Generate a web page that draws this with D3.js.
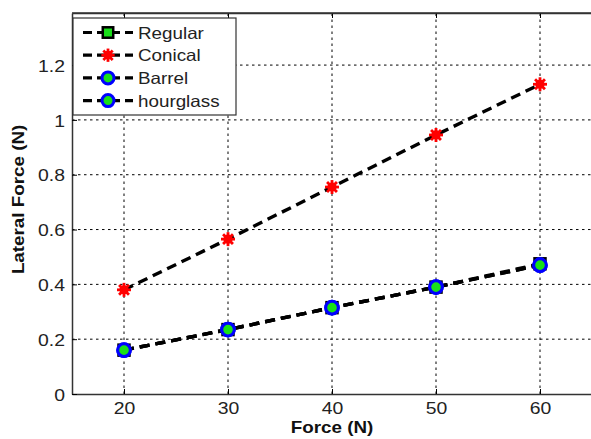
<!DOCTYPE html>
<html><head><meta charset="utf-8">
<script src="https://cdn.jsdelivr.net/npm/d3@7/dist/d3.min.js"></script>
<style>body{margin:0;background:#fff;}svg{display:block;font-family:Arial,"Liberation Sans",sans-serif;}</style>
</head><body>
<script>
const forces = [20, 30, 40, 50, 60];
const regular = [0.16, 0.235, 0.315, 0.39, 0.475];
const conical = [0.38, 0.565, 0.755, 0.945, 1.13];
const barrel = [0.16, 0.235, 0.315, 0.39, 0.47];
const hourglass = [0.16, 0.235, 0.315, 0.39, 0.47];
const xTicks = [20, 30, 40, 50, 60];
const yTicks = [0, 0.2, 0.4, 0.6, 0.8, 1, 1.2];
const seriesNames = ["Regular", "Conical", "Barrel", "hourglass"];

const W = 591, H = 439;
const m = {l: 72, t: 13, r: -1, b: 45};
const svg = d3.select("body").append("svg").attr("width", W).attr("height", H);
const x = d3.scaleLinear().domain([15, 65]).range([m.l, W - m.r]);
const y = d3.scaleLinear().domain([0, 1.39]).range([H - m.b, m.t]);
const x0 = m.l, x1 = W - m.r, y0 = H - m.b, y1 = m.t;
const GREEN = "#19e019";

// grid
const g = svg.append("g");
g.selectAll(".gx").data(xTicks).join("line")
  .attr("x1", d => x(d)).attr("x2", d => x(d)).attr("y1", y0).attr("y2", y1)
  .attr("stroke", "#000").attr("stroke-width", 1).attr("stroke-dasharray", "2.5,3.5");
g.selectAll(".gy").data(yTicks.filter(d => d > 0)).join("line")
  .attr("x1", x0).attr("x2", x1).attr("y1", d => y(d)).attr("y2", d => y(d))
  .attr("stroke", "#000").attr("stroke-width", 1).attr("stroke-dasharray", "2.5,3.5");

// axes
const xa = svg.append("g").attr("transform", `translate(0,${y0})`)
  .call(d3.axisBottom(x).tickValues(xTicks).tickSizeInner(-5).tickSizeOuter(0).tickPadding(8));
const ya = svg.append("g").attr("transform", `translate(${x0},0)`)
  .call(d3.axisLeft(y).tickValues(yTicks).tickFormat(d => String(d)).tickSizeInner(-5).tickSizeOuter(0).tickPadding(7));
svg.append("g").attr("transform", `translate(0,${y1})`)
  .call(d3.axisTop(x).tickValues(xTicks).tickSizeInner(-5).tickSizeOuter(0).tickFormat(""));
[xa, ya].forEach(a => {
  a.selectAll("text").attr("font-size", 17).attr("fill", "#222").attr("font-family", "Arial, 'Liberation Sans', sans-serif");
  a.selectAll(".tick line").attr("stroke", "#000");
});
ya.selectAll("text").attr("dy", "0.36em");
svg.selectAll(".domain").attr("stroke", "#333").attr("stroke-width", 1.5);
svg.append("line").attr("x1", x0).attr("x2", x1).attr("y1", y1).attr("y2", y1).attr("stroke", "#333").attr("stroke-width", 1.5);

svg.append("text").attr("x", x(40)).attr("y", 433).attr("text-anchor", "middle")
  .attr("font-weight", "bold").attr("font-size", 16.5).attr("fill", "#111").text("Force (N)");
svg.append("text").attr("transform", `translate(24,${y(0.71)}) rotate(-90)`).attr("text-anchor", "middle")
  .attr("font-weight", "bold").attr("font-size", 16.5).attr("fill", "#111").text("Lateral Force (N)");

// series
const line = d3.line().x((d, i) => x(forces[i])).y(d => y(d));
const data = [regular, conical, barrel, hourglass];
const plot = svg.append("g");
data.forEach(vals => {
  plot.append("path").datum(vals).attr("d", line).attr("fill", "none")
    .attr("stroke", "#000").attr("stroke-width", 3.4).attr("stroke-dasharray", "10,6");
});

function marker(sel, type, s) {
  if (type === 0) {
    sel.append("rect").attr("x", -5.5 * s).attr("y", -5.5 * s).attr("width", 11 * s).attr("height", 11 * s)
      .attr("fill", GREEN).attr("stroke", "#000").attr("stroke-width", 2.5);
  } else if (type === 1) {
    sel.append("circle").attr("r", 4.6 * s).attr("fill", "#ff0000");
    for (let k = 0; k < 4; k++) {
      const a = k * Math.PI / 4, L = 7 * s;
      sel.append("line").attr("x1", -L * Math.cos(a)).attr("y1", -L * Math.sin(a))
        .attr("x2", L * Math.cos(a)).attr("y2", L * Math.sin(a))
        .attr("stroke", "#ff0000").attr("stroke-width", 2.8);
    }
  } else {
    sel.append("circle").attr("r", 6.3 * s).attr("fill", GREEN).attr("stroke", "#0000ff").attr("stroke-width", 3);
  }
}
data.forEach((vals, si) => {
  vals.forEach((v, i) => {
    const mg = plot.append("g").attr("transform", `translate(${x(forces[i])},${y(v)})`);
    marker(mg, si, 1);
  });
});

// legend
const lg = svg.append("g").attr("transform", "translate(73,18)");
lg.append("rect").attr("x", 0).attr("y", 0).attr("width", 163).attr("height", 97)
  .attr("fill", "#fff").attr("stroke", "#333").attr("stroke-width", 1.2);
seriesNames.forEach((name, i) => {
  const yy = 14.5 + i * 22.7;
  lg.append("line").attr("x1", 10).attr("x2", 60).attr("y1", yy).attr("y2", yy)
    .attr("stroke", "#000").attr("stroke-width", 3.2).attr("stroke-dasharray", "9,5");
  const mg = lg.append("g").attr("transform", `translate(35,${yy})`);
  marker(mg, i, 0.95);
  lg.append("text").attr("x", 65).attr("y", yy + 6).attr("font-size", 16.5).attr("fill", "#222").text(name);
});

// horizontally stretch all text to match the reference's wide glyphs
svg.selectAll("text").each(function() {
  const t = d3.select(this);
  const len = this.getComputedTextLength();
  t.attr("textLength", len * 1.14).attr("lengthAdjust", "spacingAndGlyphs");
});
</script>
</body></html>
